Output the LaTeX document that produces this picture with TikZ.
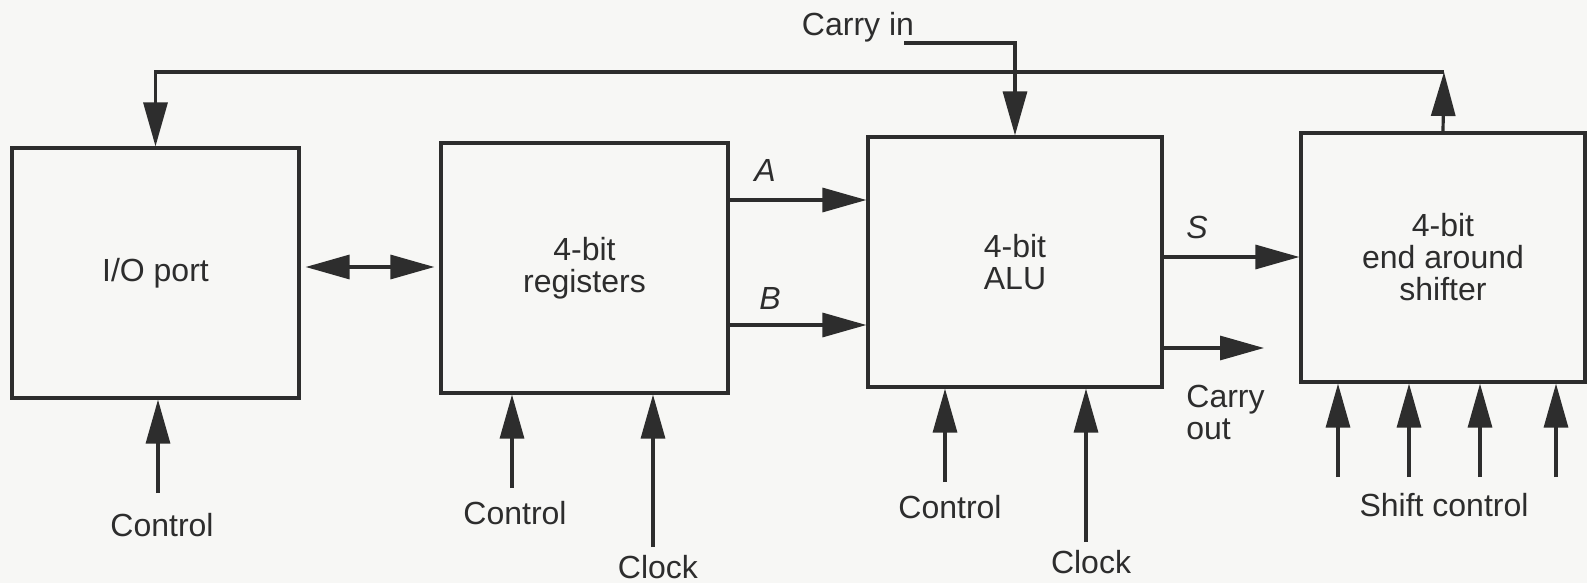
\documentclass[tikz,border=0pt]{standalone}
\usepackage{fontspec}
\setmainfont{Liberation Sans}
\usetikzlibrary{arrows.meta,calc}
\definecolor{ink}{RGB}{45,45,45}
\definecolor{paper}{RGB}{247,247,245}
\begin{document}
\begin{tikzpicture}[x=0.5pt,y=-0.5pt,
  >={Triangle[length=22pt,width=12pt]},
  box/.style={draw=ink,line width=1.6pt,inner sep=0pt,align=center,font=\fontsize{16}{16}\selectfont,text=ink},
  arr/.style={draw=ink,line width=1.6pt,->},
  lbl/.style={inner sep=0pt,font=\fontsize{16}{16}\selectfont,text=ink,align=center},
  sig/.style={inner sep=0pt,font=\fontsize{16}{16}\selectfont\itshape,text=ink}]
\fill[paper] (0,0) rectangle (1587,583);
\useasboundingbox (0,0) rectangle (1587,583);

% blocks
\node[box,minimum width=143.5pt,minimum height=125pt] (io) at (155.5,273) {I/O port};
\node[box,minimum width=143.5pt,minimum height=125pt] (reg) at (584.5,268) {4-bit\\registers};
\node[box,minimum width=147pt,minimum height=125pt] (alu) at (1015,262) {4-bit\\ALU};
\node[box,minimum width=142pt,minimum height=124.5pt] (sh) at (1443,257.5) {4-bit\\end around\\shifter};

% carry in
\node[lbl] (cin) at (858,27) {Carry in};
\coordinate (cinS) at (904,43);
\draw[arr] (cinS) -| (alu.north);

% feedback
\coordinate (fbR) at (1444,72);
\coordinate (fbL) at (155.5,72);
\draw[arr] (sh.north) -- (fbR);
\draw[arr] (fbR) -- (fbL) -- (io.north);

% io <-> registers
\coordinate (bdy) at (0,267);
\draw[draw=ink,line width=1.6pt,<->] ($(io.east|-bdy)+(5,0)$) -- ($(reg.west|-bdy)+(-5,0)$);

% A, B, S
\coordinate (ya) at (0,200);
\coordinate (yb) at (0,325);
\coordinate (ys) at (0,257);
\draw[arr] (reg.east|-ya) -- (alu.west|-ya);
\draw[arr] (reg.east|-yb) -- (alu.west|-yb);
\draw[arr] (alu.east|-ys) -- (sh.west|-ys);
\node[sig] (lA) at (765,170) {A};
\node[sig] (lB) at (770,298) {B};
\node[sig] (lS) at (1197,227) {S};

% carry out
\coordinate (yco) at (0,348);
\coordinate (coT) at (1264,348);
\draw[arr] (alu.east|-yco) -- (coT);
\node[lbl,align=left,anchor=west] (lco) at (1186,412) {Carry\\out};

% io control
\node[lbl] (ctl1) at (162,525) {Control};
\coordinate (c1) at (158,493);
\draw[arr] (c1) -- (c1|-io.south);

% registers control / clock
\node[lbl] (ctl2) at (515,513) {Control};
\coordinate (c2) at (512,488);
\draw[arr] (c2) -- (c2|-reg.south);
\node[lbl] (clk1) at (658,567) {Clock};
\coordinate (k1) at (653,547);
\draw[arr] (k1) -- (k1|-reg.south);

% alu control / clock
\node[lbl] (ctl3) at (950,507) {Control};
\coordinate (c3) at (945,482);
\draw[arr] (c3) -- (c3|-alu.south);
\node[lbl] (clk2) at (1091,562) {Clock};
\coordinate (k2) at (1086,542);
\draw[arr] (k2) -- (k2|-alu.south);

% shift control
\node[lbl] (shc) at (1444,505) {Shift control};
\foreach \x [count=\i] in {1338,1409,1480,1556}{
  \coordinate (s\i) at (\x,477);
  \draw[arr] (s\i) -- (s\i|-sh.south);
}
\end{tikzpicture}
\end{document}
